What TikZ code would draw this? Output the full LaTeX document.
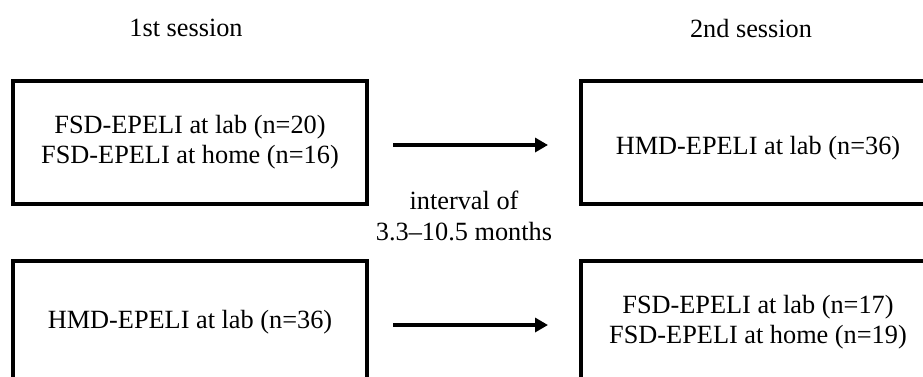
\documentclass[tikz,border=0pt]{standalone}
\usepackage{fontspec}
\setmainfont{Liberation Serif}
\usetikzlibrary{arrows.meta}
\tikzset{
  box/.style={draw=black, line width=4pt, minimum width=354pt, minimum height=123pt, inner sep=0pt, align=center, font=\fontsize{26.3}{30}\selectfont},
  lbl/.style={inner sep=0pt, align=center, font=\fontsize{26.3}{31}\selectfont},
  arr/.style={line width=4.5pt, -{Triangle[length=13pt,width=14pt]}}
}
\begin{document}
\begin{tikzpicture}[x=1pt,y=-1pt]
\useasboundingbox (0,0) rectangle (923,376);
\clip (0,0) rectangle (923,376);
\fill[white] (0,0) rectangle (923,376);
\node[lbl] (h1) at (186,28) {1st session};
\node[lbl] (h2) at (751,28) {2nd session};
\node[box] (tl) at (190,142.5) {FSD-EPELI at lab (n=20)\\FSD-EPELI at home (n=16)};
\node[box] (tr) at (758,142.5) {\rule{0pt}{30pt}HMD-EPELI at lab (n=36)};
\node[box] (bl) at (190,322.5) {HMD-EPELI at lab (n=36)};
\node[box] (br) at (758,322.5) {FSD-EPELI at lab (n=17)\\FSD-EPELI at home (n=19)};
\node[lbl] (iv) at (464,216) {interval of\\3.3–10.5 months};
\draw[arr] ([xshift=24pt,yshift=-2.5pt]tl.east) -- ([xshift=-31pt,yshift=-2.5pt]tr.west);
\draw[arr] ([xshift=24pt,yshift=-2.5pt]bl.east) -- ([xshift=-31pt,yshift=-2.5pt]br.west);
\end{tikzpicture}
\end{document}
